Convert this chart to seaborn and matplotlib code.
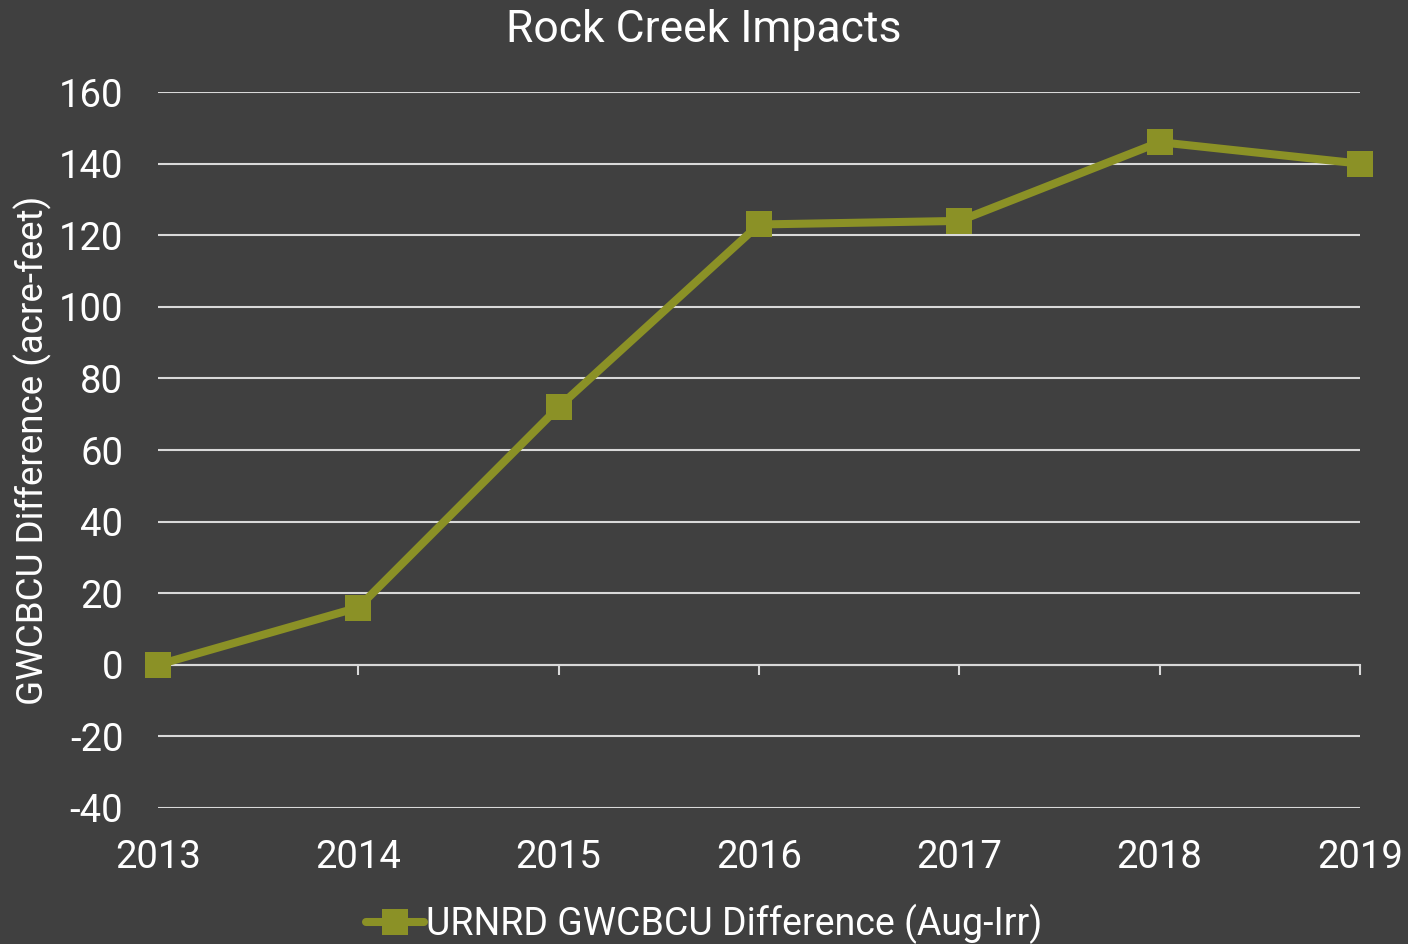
import pandas as pd
import matplotlib.pyplot as plt
import seaborn as sns

# values
years = [2013, 2014, 2015, 2016, 2017, 2018, 2019]
impact = [0, 16, 72, 123, 124, 146, 140]
y_ticks = [-40, -20, 0, 20, 40, 60, 80, 100, 120, 140, 160]
series_name = "URNRD GWCBCU Difference (Aug-Irr)"

BG = "#404040"
OLIVE = "#8b9126"
GRID = "#d9d9d9"

df = pd.DataFrame({"year": years, "impact": impact})

sns.set_theme(style="dark", rc={"axes.facecolor": BG, "figure.facecolor": BG})
plt.rcParams["font.family"] = ["Roboto", "DejaVu Sans"]
plt.rcParams["axes.unicode_minus"] = False

fig = plt.figure(figsize=(14.08, 9.44), dpi=100)
ax = fig.add_axes([0.1122, 0.1441, 0.8537, 0.7584])

sns.lineplot(data=df, x="year", y="impact", ax=ax, color=OLIVE, linewidth=5.8,
             marker="s", markersize=19, markeredgewidth=0, label=series_name,
             zorder=5, clip_on=False)

ax.set_xlim(2013, 2019)
ax.set_ylim(-40, 160)
ax.set_yticks(y_ticks)
ax.set_xticks(years)
ax.set_xticklabels([str(y) for y in years])
ax.grid(axis="y", color=GRID, linewidth=1.5)
ax.grid(axis="x", visible=False)
ax.set_axisbelow(True)
for s in ax.spines.values():
    s.set_visible(False)
ax.tick_params(axis="both", colors="white", labelsize=27.5, length=0)
ax.tick_params(axis="x", pad=22)
ax.tick_params(axis="y", pad=25)
ax.set_xlabel("")
ax.set_ylabel("GWCBCU Difference (acre-feet)", color="white", fontsize=26.5,
              labelpad=5)
fig.text(0.5, 0.968, "Rock Creek Impacts", color="white", fontsize=32,
         ha="center", va="center")

# category axis sitting on the zero line with small ticks below
sec = ax.secondary_xaxis(0.2)
sec.set_xticks(years)
sec.set_xticklabels([])
sec.spines["bottom"].set_color(GRID)
sec.spines["bottom"].set_linewidth(1.5)
sec.tick_params(axis="x", direction="out", length=7, width=1.5, color=GRID)

leg = fig.legend(loc="center", bbox_to_anchor=(0.5, 0.021), frameon=False,
                 fontsize=27, handlelength=1.55, handletextpad=0.05,
                 borderaxespad=0)
ax.get_legend().remove()
for t in leg.get_texts():
    t.set_color("white")

fig.savefig("out.png", dpi=100, facecolor=BG)
